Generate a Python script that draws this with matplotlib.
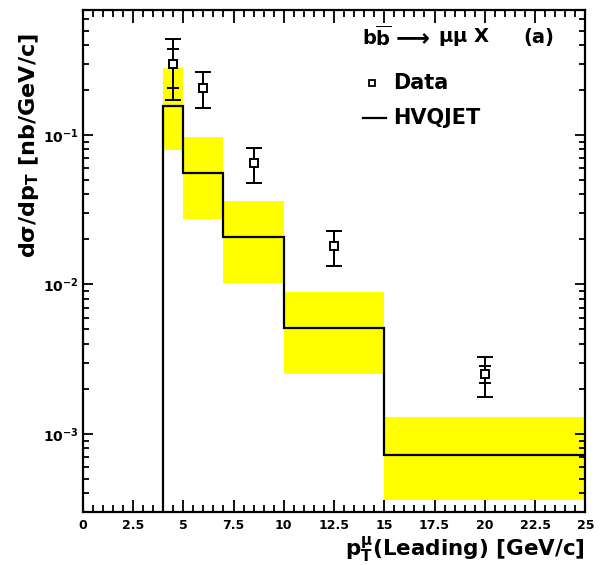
import numpy as np
import matplotlib.pyplot as plt
from matplotlib.ticker import MultipleLocator, LogLocator, NullFormatter

plt.rcParams['font.family'] = ['DejaVu Sans']
plt.rcParams['font.weight'] = 'bold'
plt.rcParams['mathtext.fontset'] = 'custom'
plt.rcParams['mathtext.rm'] = 'DejaVu Sans:bold'
plt.rcParams['mathtext.it'] = 'DejaVu Sans:bold'
plt.rcParams['mathtext.bf'] = 'DejaVu Sans:bold'
plt.rcParams['mathtext.sf'] = 'DejaVu Sans:bold'

# HVQJET prediction (bin edges, central value, band)
bin_edges = [4, 5, 7, 10, 15, 25]
hvq_val = [0.156, 0.0557, 0.0208, 0.00512, 0.00072]
hvq_hi = [0.28, 0.097, 0.0362, 0.0089, 0.0013]
hvq_lo = [0.079, 0.0274, 0.0102, 0.00252, 0.00036]

# data points
data_x = [4.5, 6.0, 8.5, 12.5, 20.0]
data_y = [0.30, 0.206, 0.065, 0.0181, 0.0025]
tot_hi = [0.44, 0.264, 0.0818, 0.0228, 0.00327]
tot_lo = [0.171, 0.152, 0.0478, 0.0133, 0.00177]
stat_hi = [0.376, 0.264, 0.0818, 0.0228, 0.00285]
stat_lo = [0.206, 0.152, 0.0478, 0.0133, 0.00219]

fig = plt.figure(figsize=(6.04, 5.65), dpi=100)
ax = fig.add_axes([0.137, 0.094, 0.832, 0.888])
ax.set_yscale('log')
ax.set_xlim(0, 25)
ax.set_ylim(3.0e-4, 0.685)

# yellow uncertainty band
for i in range(len(hvq_val)):
    ax.fill_between([bin_edges[i], bin_edges[i + 1]], hvq_lo[i], hvq_hi[i],
                    color='#ffff00', lw=0, zorder=1)

# histogram line, starting from the bottom at the first edge
xs = [bin_edges[0]] + list(np.repeat(bin_edges, 2)[1:-1])
ys = [1e-6] + list(np.repeat(hvq_val, 2))
ax.plot(xs, ys[:len(xs)], color='black', lw=1.6, zorder=2, solid_joinstyle='miter')

y = np.array(data_y)
ax.errorbar(data_x, data_y, yerr=[y - np.array(tot_lo), np.array(tot_hi) - y],
            fmt='none', ecolor='black', elinewidth=1.4, capsize=5.5, capthick=1.4, zorder=3)
ax.errorbar(data_x, data_y, yerr=[y - np.array(stat_lo), np.array(stat_hi) - y],
            fmt='none', ecolor='black', elinewidth=1.4, capsize=4.0, capthick=1.4, zorder=3)
ax.plot(data_x, data_y, 's', mfc='white', mec='black', ms=6, mew=1.4, zorder=4)

# axes styling
for s in ax.spines.values():
    s.set_linewidth(1.6)
ax.xaxis.set_minor_locator(MultipleLocator(0.5))
ax.set_xticks([0, 2.5, 5, 7.5, 10, 12.5, 15, 17.5, 20, 22.5, 25])
ax.set_xticklabels(['0', '2.5', '5', '7.5', '10', '12.5', '15', '17.5', '20', '22.5', '25'])
ax.yaxis.set_major_locator(LogLocator(base=10, numticks=10))
ax.yaxis.set_minor_locator(LogLocator(base=10, subs=np.arange(2, 10), numticks=10))
ax.yaxis.set_minor_formatter(NullFormatter())
ax.tick_params(which='both', direction='in', top=True, right=True, width=1.3)
ax.tick_params(axis='x', which='major', length=9, labelsize=9, pad=5)
ax.tick_params(axis='x', which='minor', length=5)
ax.tick_params(axis='y', which='major', length=7, labelsize=10, pad=3)
ax.tick_params(axis='y', which='minor', length=4)

ax.set_ylabel(r'd$\sigma$/dp$_T$ [nb/GeV/c]', fontsize=16, fontweight='bold', va='center')
ax.yaxis.set_label_coords(-0.106, 0.731)
ax.set_xlabel(r'p$_T^{\mu}$(Leading) [GeV/c]', fontsize=15.5, fontweight='bold',
              ha='right', va='center')
ax.xaxis.set_label_coords(1.0, -0.076)

# process label
ax.text(0.556, 0.946, r'b$\overline{\rm b}$', transform=ax.transAxes,
        fontsize=14, fontweight='bold', va='center')
ax.text(0.613, 0.946, r'$\longrightarrow$', transform=ax.transAxes, math_fontfamily='dejavusans',
        fontsize=17, va='center')
ax.text(0.707, 0.946, r'$\mu\mu$ X', transform=ax.transAxes,
        fontsize=14, fontweight='bold', va='center')
ax.text(0.876, 0.946, '(a)', transform=ax.transAxes,
        fontsize=14, fontweight='bold', va='center')

# legend
ax.plot([0.576], [0.855], 's', transform=ax.transAxes, mfc='white', mec='black', ms=5, mew=1.3)
ax.text(0.617, 0.855, 'Data', transform=ax.transAxes, fontsize=15, fontweight='bold', va='center')
ax.plot([0.557, 0.603], [0.785, 0.785], transform=ax.transAxes, color='black', lw=1.6)
ax.text(0.617, 0.785, 'HVQJET', transform=ax.transAxes, fontsize=15, fontweight='bold', va='center')

plt.savefig('out.png', dpi=100)
